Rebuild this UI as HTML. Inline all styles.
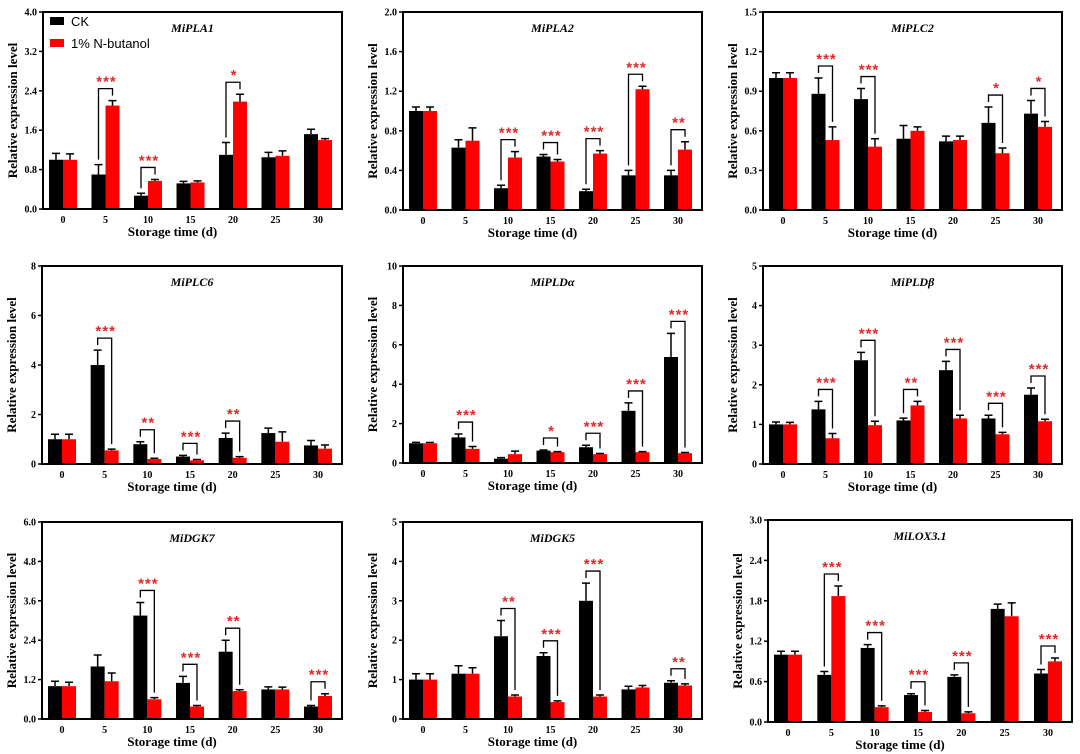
<!DOCTYPE html>
<html><head><meta charset="utf-8">
<style>
html,body{margin:0;padding:0;background:#fff;}
svg{display:block;}
.tk{font-family:"Liberation Serif",serif;font-weight:bold;font-size:10px;fill:#000;}
.ax{font-family:"Liberation Serif",serif;font-weight:bold;font-size:13px;fill:#000;}
.tt{font-family:"Liberation Serif",serif;font-weight:bold;font-style:italic;font-size:12px;fill:#000;}
.st{font-family:"Liberation Sans",sans-serif;font-weight:bold;font-size:15px;fill:#e02828;letter-spacing:1px;}
.lg{font-family:"Liberation Sans",sans-serif;font-size:13px;fill:#000;}
</style></head>
<body>
<svg id="fig" width="1080" height="754" viewBox="0 0 1080 754" xmlns="http://www.w3.org/2000/svg"></svg>
<script>
const categories=["0","5","10","15","20","25","30"];
const pla1CK=[1.0,0.7,0.27,0.52,1.1,1.05,1.52], pla1CKerr=[0.13,0.2,0.05,0.04,0.25,0.1,0.1];
const pla1N=[1.0,2.1,0.57,0.54,2.18,1.08,1.4], pla1Nerr=[0.12,0.1,0.03,0.03,0.15,0.1,0.03];
const pla1Sig=["","***","***","","*","",""];
const pla1Ticks=["0.0","0.8","1.6","2.4","3.2","4.0"];
const pla2CK=[1.0,0.63,0.22,0.54,0.19,0.35,0.35], pla2CKerr=[0.04,0.08,0.03,0.02,0.02,0.05,0.05];
const pla2N=[1.0,0.7,0.53,0.49,0.57,1.22,0.61], pla2Nerr=[0.04,0.13,0.06,0.02,0.03,0.03,0.08];
const pla2Sig=["","","***","***","***","***","**"];
const pla2Ticks=["0.0","0.4","0.8","1.2","1.6","2.0"];
const plc2CK=[1.0,0.88,0.84,0.54,0.52,0.66,0.73], plc2CKerr=[0.04,0.12,0.08,0.1,0.04,0.12,0.1];
const plc2N=[1.0,0.53,0.48,0.6,0.53,0.43,0.63], plc2Nerr=[0.04,0.1,0.06,0.03,0.03,0.04,0.04];
const plc2Sig=["","***","***","","","*","*"];
const plc2Ticks=["0.0","0.3","0.6","0.9","1.2","1.5"];
const plc6CK=[1.0,4.0,0.8,0.3,1.05,1.25,0.75], plc6CKerr=[0.2,0.6,0.1,0.05,0.2,0.2,0.2];
const plc6N=[1.0,0.55,0.2,0.15,0.25,0.9,0.62], plc6Nerr=[0.2,0.05,0.03,0.03,0.05,0.4,0.15];
const plc6Sig=["","***","**","***","**","",""];
const plc6Ticks=["0","2","4","6","8"];
const pldaCK=[1.0,1.3,0.22,0.63,0.8,2.65,5.38], pldaCKerr=[0.05,0.17,0.05,0.03,0.1,0.4,1.2];
const pldaN=[1.0,0.72,0.45,0.55,0.45,0.55,0.5], pldaNerr=[0.04,0.12,0.15,0.03,0.03,0.03,0.03];
const pldaSig=["","***","","*","***","***","***"];
const pldaTicks=["0","2","4","6","8","10"];
const pldbCK=[1.0,1.38,2.62,1.1,2.37,1.15,1.75], pldbCKerr=[0.06,0.2,0.2,0.06,0.22,0.08,0.17];
const pldbN=[1.0,0.65,0.98,1.48,1.15,0.75,1.08], pldbNerr=[0.05,0.12,0.1,0.1,0.08,0.05,0.05];
const pldbSig=["","***","***","**","***","***","***"];
const pldbTicks=["0","1","2","3","4","5"];
const dgk7CK=[1.0,1.6,3.15,1.1,2.05,0.9,0.38], dgk7CKerr=[0.15,0.35,0.4,0.2,0.35,0.08,0.03];
const dgk7N=[1.0,1.15,0.6,0.38,0.85,0.9,0.7], dgk7Nerr=[0.12,0.25,0.05,0.03,0.04,0.07,0.07];
const dgk7Sig=["","","***","***","**","","***"];
const dgk7Ticks=["0.0","1.2","2.4","3.6","4.8","6.0"];
const dgk5CK=[1.0,1.15,2.1,1.6,3.0,0.75,0.92], dgk5CKerr=[0.15,0.2,0.4,0.08,0.45,0.08,0.05];
const dgk5N=[1.0,1.15,0.57,0.43,0.57,0.8,0.85], dgk5Nerr=[0.15,0.15,0.04,0.03,0.04,0.05,0.04];
const dgk5Sig=["","","**","***","***","","**"];
const dgk5Ticks=["0","1","2","3","4","5"];
const loxCK=[1.0,0.7,1.1,0.4,0.67,1.68,0.72], loxCKerr=[0.05,0.05,0.05,0.02,0.03,0.07,0.06];
const loxN=[1.0,1.87,0.22,0.15,0.13,1.57,0.9], loxNerr=[0.05,0.15,0.02,0.02,0.02,0.2,0.05];
const loxSig=["","***","***","***","***","","***"];
const loxTicks=["0.0","0.6","1.2","1.8","2.4","3.0"];

const NS="http://www.w3.org/2000/svg";
const svg=document.getElementById('fig');
function mk(tag,attrs,parent,text){const e=document.createElementNS(NS,tag);for(const k in attrs)e.setAttribute(k,attrs[k]);if(text!==undefined)e.textContent=text;parent.appendChild(e);return e;}

function panel(name,title,L,T,W,H,ck,ckErr,n,nErr,sig,ticks,legend){
  const g=mk('g',{},svg);
  
  
  const ymax=parseFloat(ticks[ticks.length-1]);
  const y=v=>T+H-v/ymax*H;
  const x=i=>L+20+i*(W-44)/6;
  const bw=14;
  // ticks
  ticks.forEach((t,i)=>{
    const yy=y(parseFloat(t));
    const tl=mk('line',{x1:L-4,x2:L,y1:yy,y2:yy,stroke:'#000','stroke-width':1.5},g);
    
    
    const tx=mk('text',{x:L-6,y:yy+3.5,'text-anchor':'end',class:'tk'},g,t);
    
    
  });
  categories.forEach((c,i)=>{
    const tx=mk('text',{x:x(i),y:T+H+14,'text-anchor':'middle',class:'tk'},g,c);
    
    
    const series=[[ck,ckErr,'#000',x(i)-bw],[n,nErr,'#f00',x(i)]];
    series.forEach(([v,e,col,bx],s)=>{
      const r=mk('rect',{x:bx,y:y(v[i]),width:bw,height:T+H-y(v[i]),fill:col},g);
      
      
      const cx=bx+bw/2;
      const el=mk('path',{d:`M${cx},${y(v[i])} V${y(v[i]+e[i])} M${cx-4},${y(v[i]+e[i])} H${cx+4}`,stroke:col==='#000'?'#000':'#000','stroke-width':1.5,fill:'none'},g);
      
      
    });
    if(sig[i]){
      const t1=y(ck[i]+ckErr[i]), t2=y(n[i]+nErr[i]);
      const top=Math.min(t1,t2)-12;
      const x1=x(i)-bw/2, x2=x(i)+bw/2;
      const br=mk('path',{d:`M${x1},${t1-5} V${top} H${x2} V${t2-5}`,stroke:'#000','stroke-width':1.3,fill:'none'},g);
      
      
      const st=mk('text',{x:x(i)+1,y:top-2,'text-anchor':'middle',class:'st'},g,sig[i]);
      
      
    }
  });
  const fr=mk('rect',{x:L,y:T,width:W,height:H,fill:'none',stroke:'#000','stroke-width':2},g);
  
  
  const tt=mk('text',{x:L+W/2,y:T+20,'text-anchor':'middle',class:'tt'},g,title);
  
  
  const xl=mk('text',{x:L+W/2-20,y:T+H+27,'text-anchor':'middle',class:'ax'},g,'Storage time (d)');
  
  
  const yl=mk('text',{x:0,y:0,'text-anchor':'middle',class:'ax',transform:`translate(${L-26},${T+H/2}) rotate(-90)`},g,'Relative expression level');
  
  
  if(legend){
    const l1=mk('rect',{x:L+7,y:T+5,width:14,height:8,fill:'#000'},g);
    
    
    const lt1=mk('text',{x:L+28,y:T+14,class:'lg'},g,'CK');
    
    
    const l2=mk('rect',{x:L+7,y:T+27,width:14,height:8,fill:'#f00'},g);
    
    
    const lt2=mk('text',{x:L+28,y:T+36,class:'lg'},g,'1% N-butanol');
    
    
  }
}
panel('mipla1','MiPLA1',43,12,299,197,pla1CK,pla1CKerr,pla1N,pla1Nerr,pla1Sig,pla1Ticks,true);
panel('mipla2','MiPLA2',403,12,299,198,pla2CK,pla2CKerr,pla2N,pla2Nerr,pla2Sig,pla2Ticks,false);
panel('miplc2','MiPLC2',763,12,299,198,plc2CK,plc2CKerr,plc2N,plc2Nerr,plc2Sig,plc2Ticks,false);
panel('miplc6','MiPLC6',42,266,300,198,plc6CK,plc6CKerr,plc6N,plc6Nerr,plc6Sig,plc6Ticks,false);
panel('mipld-alpha','MiPLDα',403,266,299,197,pldaCK,pldaCKerr,pldaN,pldaNerr,pldaSig,pldaTicks,false);
panel('mipld-beta','MiPLDβ',763,266,299,198,pldbCK,pldbCKerr,pldbN,pldbNerr,pldbSig,pldbTicks,false);
panel('midgk7','MiDGK7',42,522,300,197,dgk7CK,dgk7CKerr,dgk7N,dgk7Nerr,dgk7Sig,dgk7Ticks,false);
panel('midgk5','MiDGK5',403,522,299,197,dgk5CK,dgk5CKerr,dgk5N,dgk5Nerr,dgk5Sig,dgk5Ticks,false);
panel('milox3-1','MiLOX3.1',768,520,304,202,loxCK,loxCKerr,loxN,loxNerr,loxSig,loxTicks,false);
</script>
</body></html>
